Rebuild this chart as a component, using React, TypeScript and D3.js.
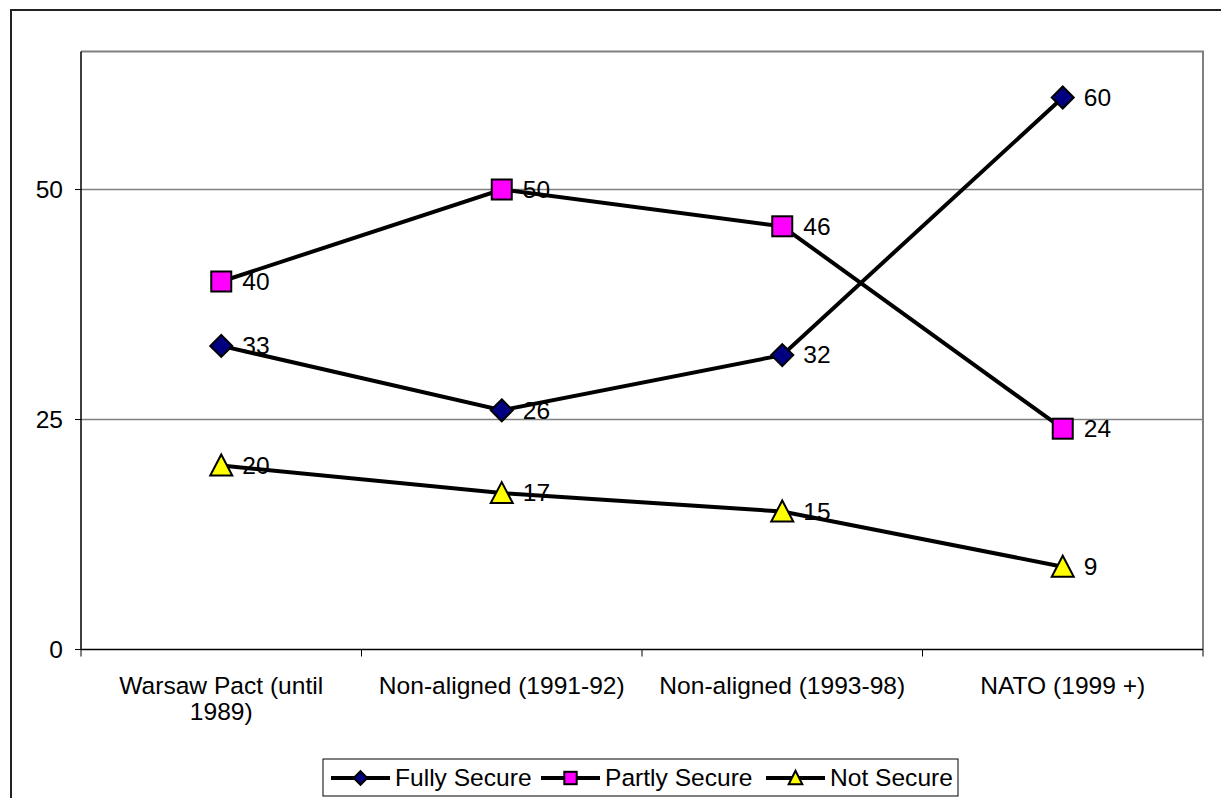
import React from "react";
import * as d3 from "d3";

const categories = ["Warsaw Pact (until 1989)", "Non-aligned (1991-92)", "Non-aligned (1993-98)", "NATO (1999 +)"];
const categoryLines = [["Warsaw Pact (until", "1989)"], ["Non-aligned (1991-92)"], ["Non-aligned (1993-98)"], ["NATO (1999 +)"]];
const fullySecure = [33, 26, 32, 60];
const partlySecure = [40, 50, 46, 24];
const notSecure = [20, 17, 15, 9];
const yTicks = [0, 25, 50];

const seriesList = [
  { name: "Fully Secure", values: fullySecure, marker: "diamond", fill: "#000080" },
  { name: "Partly Secure", values: partlySecure, marker: "square", fill: "#FF00FF" },
  { name: "Not Secure", values: notSecure, marker: "triangle", fill: "#FFFF00" },
];

const W = 1221, H = 798;
const plot = { left: 81, right: 1203, top: 51.5, bottom: 649.5 };
const FONT = "'Liberation Sans', Arial, sans-serif";
const FS = 23.3;
const SX = 1.055;

function T({ x, y, anchor = "start", children }: { x: number; y: number; anchor?: string; children: React.ReactNode }) {
  return (
    <text transform={`translate(${x},${y}) scale(${SX},1)`} dy="0.36em" textAnchor={anchor} fontSize={FS} fill="#000">
      {children}
    </text>
  );
}

function Marker({ type, x, y, fill, k = 1 }: { type: string; x: number; y: number; fill: string; k?: number }) {
  if (type === "diamond") {
    const r = 11 * k;
    return <path d={`M${x},${y - r}L${x + r},${y}L${x},${y + r}L${x - r},${y}Z`} fill={fill} stroke="#000" strokeWidth={2} />;
  }
  if (type === "square") {
    const s = 20 * k;
    return <rect x={x - s / 2} y={y - s / 2} width={s} height={s} fill={fill} stroke="#000" strokeWidth={2} />;
  }
  const h = 20 * k, w = 22 * k;
  return <path d={`M${x},${y - h / 2 - 1}L${x + w / 2},${y + h / 2}L${x - w / 2},${y + h / 2}Z`} fill={fill} stroke="#000" strokeWidth={2} />;
}

export default function App() {
  const x = d3.scaleBand<string>().domain(categories).range([plot.left, plot.right]).padding(0);
  const y = d3.scaleLinear().domain([0, 65]).range([plot.bottom, plot.top]);
  const line = d3.line<number>().x((_, i) => x(categories[i])! + x.bandwidth() / 2).y((d) => y(d));
  const boundaries = [...categories.map((c) => x(c)!), plot.right];

  const legendItems = [
    { x: 331, tx: 395 },
    { x: 541, tx: 605 },
    { x: 766, tx: 830 },
  ];

  return (
    <svg width={W} height={H} style={{ position: "absolute", left: 0, top: 0, background: "#fff" }} fontFamily={FONT}>
      <rect x={0} y={0} width={W} height={H} fill="#fff" />
      {/* outer chart border */}
      <path d={`M11,${H}L11,10L${W},10`} fill="none" stroke="#222" strokeWidth={2} />
      {/* gridlines */}
      {yTicks.filter((t) => t > 0).map((t) => (
        <line key={t} x1={plot.left} x2={plot.right} y1={y(t)} y2={y(t)} stroke="#808080" strokeWidth={1.5} />
      ))}
      {/* plot border top/right */}
      <path d={`M${plot.left},${plot.top}L${plot.right},${plot.top}L${plot.right},${plot.bottom}`} fill="none" stroke="#808080" strokeWidth={2} />
      {/* y axis */}
      <line x1={plot.left} x2={plot.left} y1={plot.top} y2={plot.bottom} stroke="#000" strokeWidth={1.5} />
      {yTicks.map((t) => (
        <g key={t}>
          <line x1={plot.left - 6} x2={plot.left} y1={y(t)} y2={y(t)} stroke="#000" strokeWidth={1} />
          <T x={63} y={y(t)} anchor="end">{t}</T>
        </g>
      ))}
      {/* x axis */}
      <line x1={plot.left} x2={plot.right} y1={plot.bottom} y2={plot.bottom} stroke="#000" strokeWidth={1.5} />
      {boundaries.map((b, i) => (
        <line key={i} x1={b} x2={b} y1={plot.bottom} y2={plot.bottom + 7} stroke="#000" strokeWidth={1} />
      ))}
      {categories.map((c, i) =>
        categoryLines[i].map((l, j) => (
          <T key={c + j} x={x(c)! + x.bandwidth() / 2} y={686 + j * 26} anchor="middle">{l}</T>
        ))
      )}
      {/* series */}
      {seriesList.map((s) => (
        <g key={s.name}>
          <path d={line(s.values) || ""} fill="none" stroke="#000" strokeWidth={4} />
          {s.values.map((v, i) => {
            const cx = x(categories[i])! + x.bandwidth() / 2;
            return <Marker key={i} type={s.marker} x={cx} y={y(v)} fill={s.fill} />;
          })}
          {s.values.map((v, i) => {
            const cx = x(categories[i])! + x.bandwidth() / 2;
            return <T key={"l" + i} x={cx + 21} y={y(v)}>{v}</T>;
          })}
        </g>
      ))}
      {/* legend */}
      <rect x={323} y={759} width={635} height={37} fill="#fff" stroke="#000" strokeWidth={1} />
      {seriesList.map((s, i) => {
        const it = legendItems[i];
        const ly = 778;
        return (
          <g key={s.name}>
            <line x1={it.x} x2={it.x + 59} y1={ly} y2={ly} stroke="#000" strokeWidth={4} />
            <Marker type={s.marker} x={it.x + 29.5} y={ly} fill={s.fill} k={0.62} />
            <T x={it.tx} y={ly}>{s.name}</T>
          </g>
        );
      })}
    </svg>
  );
}
